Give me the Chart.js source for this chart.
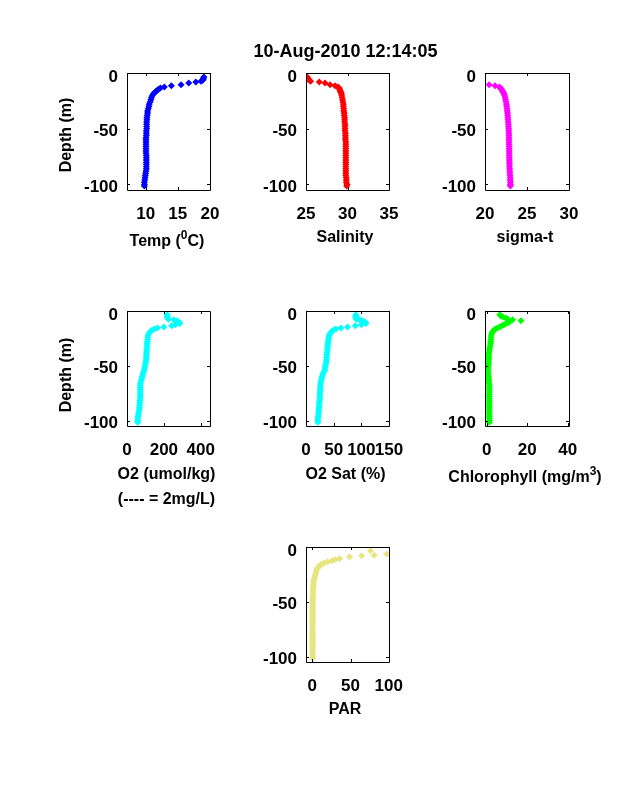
<!DOCTYPE html>
<html>
<head>
<meta charset="utf-8">
<script src="https://cdn.jsdelivr.net/npm/chart.js@4"></script>
<style>
  html, body { margin: 0; padding: 0; background: #fff; }
  body { position: relative; width: 638px; height: 788px; overflow: hidden; font-family: "Liberation Sans", sans-serif; }
  canvas { position: absolute; }
  .lbl { position: absolute; transform: translate(-50%, -50%); font: bold 16px "Liberation Sans", sans-serif; color: #000; white-space: nowrap; }
  .lbl sup { font-size: 12px; line-height: 0; vertical-align: 7px; }
  .rot { transform: translate(-50%, -50%) rotate(-90deg); }
  #title { font-size: 18px; }
</style>
</head>
<body>
<script>
// Profondeurs communes (m)
const depths = [-3.5, -4.5, -5.5, -6.5, -7.5, -8, -9, -10.5, -11.5, -12.5, -13.5, -14.5, -15.5, -16.5, -17.5, -18.5, -20,
  -22, -24, -26, -28, -30, -32, -34, -36, -38, -40, -42, -44, -46, -48, -50, -52, -54, -56, -58, -60,
  -62, -64, -66, -68, -70, -72, -74, -76, -78, -80, -82, -84, -86, -88, -90, -92, -94, -96, -98, -100, -101.5];

const tempValues = [19.05, 19, 18.95, 18.85, 18.6, 17.8, 16.7, 15.5, 14, 12.9, 12.3, 12, 11.8, 11.6, 11.4, 11.25, 11.05,
  10.9, 10.8, 10.7, 10.55, 10.5, 10.4, 10.3, 10.3, 10.25, 10.2, 10.2, 10.15, 10.15, 10.15, 10.15, 10.1, 10.1, 10.1, 10.05, 10.05,
  10.05, 10.05, 10.05, 10.05, 10.05, 10.05, 10.1, 10.1, 10.1, 10.1, 10.1, 10.1, 10.1, 10.05, 10, 9.95, 9.9, 9.85, 9.8, 9.8, 9.8];
const salinityValues = [25.15, 25.2, 25.3, 25.4, 25.55, 26.6, 27.3, 27.9, 28.5, 28.85, 29, 29.05, 29.1, 29.15, 29.2, 29.25, 29.3,
  29.35, 29.4, 29.45, 29.5, 29.5, 29.55, 29.55, 29.6, 29.6, 29.65, 29.65, 29.65, 29.7, 29.7, 29.7, 29.7, 29.75, 29.75, 29.75, 29.75,
  29.8, 29.8, 29.8, 29.8, 29.8, 29.8, 29.8, 29.8, 29.8, 29.8, 29.8, 29.8, 29.8, 29.8, 29.8, 29.8, 29.85, 29.85, 29.85, 29.95, 29.9];
const sigmaValues = [17.5, 17.5, 17.6, 17.6, 17.8, 18.6, 19.2, 20.5, 21.2, 21.7, 21.85, 21.95, 22.05, 22.12, 22.18, 22.25, 22.32,
  22.4, 22.45, 22.5, 22.55, 22.6, 22.62, 22.65, 22.68, 22.7, 22.72, 22.74, 22.76, 22.78, 22.8, 22.82, 22.82, 22.84, 22.84, 22.85, 22.85,
  22.86, 22.86, 22.87, 22.87, 22.88, 22.88, 22.88, 22.9, 22.9, 22.9, 22.92, 22.92, 22.93, 22.95, 22.97, 22.98, 23, 23, 23.02, 23.02, 23.02];
const o2Values = [218, 218, 218, 220, 225, 254, 272, 284, 286, 262, 242, 200, 165, 148, 135, 128, 120,
  115, 113, 112, 110, 108, 108, 108, 106, 106, 105, 104, 104, 102, 100, 98, 95, 93, 89, 85, 82,
  79, 76, 73, 72, 72, 72, 72, 72, 72, 71, 70, 69, 68, 67, 66, 64, 62, 60, 59, 58, 58];
const o2SatValues = [90, 90, 90, 90, 91, 97, 103, 108, 108, 100, 89, 75, 63, 54, 49, 47, 44,
  42, 41, 40.5, 40, 39.5, 39, 39, 38.5, 38, 37.5, 37, 37, 36.5, 36, 35, 34.5, 34, 32, 30, 29,
  28, 27, 26.5, 26, 26, 25.5, 25.5, 25, 25, 25, 24.5, 24, 24, 23.5, 23, 23, 22.5, 22, 21.5, 21.5, 21.5];
const chlValues = [6.5, 7, 8, 9.5, 10.5, 12.8, 16.9, 11, 9.6, 8.5, 7.5, 6.5, 5.2, 4.3, 3.6, 3.1, 2.6,
  2.3, 2.2, 2.1, 2, 1.9, 1.7, 1.5, 1.3, 1.2, 1.1, 1.1, 1, 1, 0.9, 0.8, 0.7, 0.6, 0.7, 0.8, 0.9,
  1, 1.1, 1.2, 1.3, 1.3, 1.3, 1.3, 1.3, 1.3, 1.3, 1.3, 1.3, 1.3, 1.3, 1.3, 1.3, 1.3, 1.3, 1.3, 1.4, 1.3];
const parValues = [76, 112, 106, 97.4, 81, 64.6, 48.7, 35.7, 30, 26, 20, 15.5, 12.5, 10.5, 8.8, 7.5, 6.2,
  5.2, 4.4, 3.6, 2.8, 2, 1.8, 1.5, 1.3, 1.1, 0.9, 0.8, 0.7, 0.6, 0.5, 0.5, 0.4, 0.4, 0.4, 0.3, 0.3,
  0.3, 0.3, 0.3, 0.3, 0.3, 0.3, 0.3, 0.3, 0.3, 0.3, 0.3, 0.3, 0.3, 0.3, 0.3, 0.3, 0.3, 0.3, 0.3, 0.3, 0.3];

// Graduations
const depthTicks = [-100, -50, 0];
const tempTicks = [10, 15, 20];
const salinityTicks = [25, 30, 35];
const sigmaTicks = [20, 25, 30];
const o2Ticks = [0, 200, 400];
const o2SatTicks = [0, 50, 100, 150];
const chlTicks = [0, 20, 40];
const parTicks = [0, 50, 100];

// Marges autour de la zone de tracé dans chaque canvas
const padL = 70, padT = 12, padR = 30, padB = 40;

// Cadre noir et graduations vers l'intérieur sur les 4 côtés
const framePlugin = {
    id: 'frame',
    afterDraw(chart) {
        const { ctx, chartArea: a, scales } = chart;
        ctx.save();
        ctx.strokeStyle = '#000';
        ctx.lineWidth = 1;
        ctx.beginPath();
        ctx.rect(Math.round(a.left) + 0.5, Math.round(a.top) + 0.5, Math.round(a.width), Math.round(a.height));
        scales.x.ticks.forEach(t => {
            const px = Math.round(scales.x.getPixelForValue(t.value)) + 0.5;
            ctx.moveTo(px, a.top); ctx.lineTo(px, a.top + 3);
            ctx.moveTo(px, a.bottom); ctx.lineTo(px, a.bottom - 3);
        });
        scales.y.ticks.forEach(t => {
            const py = Math.round(scales.y.getPixelForValue(t.value)) + 0.5;
            ctx.moveTo(a.left, py); ctx.lineTo(a.left + 3, py);
            ctx.moveTo(a.right, py); ctx.lineTo(a.right - 3, py);
        });
        ctx.stroke();
        ctx.restore();
    }
};

function makePanel(left, top, width, height, values, color, xMin, xMax, xTicks) {
    const canvas = document.createElement('canvas');
    canvas.width = width + padL + padR;
    canvas.height = height + padT + padB;
    canvas.style.left = (left - padL) + 'px';
    canvas.style.top = (top - padT) + 'px';
    canvas.style.width = canvas.width + 'px';
    canvas.style.height = canvas.height + 'px';
    document.body.appendChild(canvas);

    const tickFont = { family: '"Liberation Sans", sans-serif', size: 17, weight: 'bold' };
    return new Chart(canvas, {
        type: 'scatter',
        data: {
            datasets: [{
                data: values.map((v, i) => ({ x: v, y: depths[i] })),
                backgroundColor: color,
                borderColor: color,
                pointStyle: 'rectRot',
                pointRadius: 3.5,
                borderWidth: 0
            }]
        },
        options: {
            responsive: false,
            animation: false,
            devicePixelRatio: 1,
            layout: { autoPadding: false, padding: { top: padT, right: padR, left: 0, bottom: 0 } },
            plugins: { legend: { display: false }, tooltip: { enabled: false } },
            scales: {
                x: {
                    type: 'linear', min: xMin, max: xMax,
                    grid: { display: false, tickLength: 0 }, border: { display: false },
                    afterBuildTicks: s => { s.ticks = xTicks.map(v => ({ value: v })); },
                    afterFit: s => { s.height = padB; s.paddingLeft = 0; s.paddingRight = 0; },
                    ticks: { color: '#000', font: tickFont, padding: 14, maxRotation: 0, autoSkip: false, callback: v => String(v) }
                },
                y: {
                    type: 'linear', min: -105, max: 0,
                    grid: { display: false, tickLength: 0 }, border: { display: false },
                    afterBuildTicks: s => { s.ticks = depthTicks.map(v => ({ value: v })); },
                    afterFit: s => { s.width = padL; s.paddingTop = 0; s.paddingBottom = 0; },
                    ticks: {
                        color: '#000', padding: 9, autoSkip: false,
                        // ligne vide au-dessus pour descendre les libellés comme sur l'original
                        font: c => ({ ...tickFont, lineHeight: c.tick && c.tick.value === 0 ? 0.53 : 0.3 }),
                        callback: v => ['', String(v)]
                    }
                }
            }
        },
        plugins: [framePlugin]
    });
}

function addLabel(html, x, y, cls) {
    const d = document.createElement('div');
    d.className = 'lbl' + (cls ? ' ' + cls : '');
    d.innerHTML = html;
    d.style.left = x + 'px';
    d.style.top = y + 'px';
    document.body.appendChild(d);
    return d;
}

// Première ligne
makePanel(127, 73, 83, 117, tempValues, '#0000ff', 7.1, 20, tempTicks);
makePanel(306, 73, 83, 117, salinityValues, '#ff0000', 25, 35, salinityTicks);
makePanel(485, 73, 84, 117, sigmaValues, '#ff00ff', 20, 30, sigmaTicks);
// Deuxième ligne
makePanel(127, 311, 83, 115, o2Values, '#00ffff', 0, 450, o2Ticks);
makePanel(306, 311, 83, 115, o2SatValues, '#00ffff', 0, 150, o2SatTicks);
makePanel(485, 311, 84, 115, chlValues, '#00ff00', -0.8, 40.6, chlTicks);
// Troisième ligne
makePanel(306, 547, 83, 115, parValues, '#e6e680', -8.3, 100.4, parTicks);

// Textes
const title = addLabel('10-Aug-2010 12:14:05', 345.5, 51);
title.id = 'title';
addLabel('Depth (m)', 66, 135, 'rot');
addLabel('Depth (m)', 66, 375, 'rot');
addLabel('Temp (<sup>0</sup>C)', 167, 241);
addLabel('Salinity', 345, 237);
addLabel('sigma-t', 525, 237);
addLabel('O2 (umol/kg)', 166.5, 474);
addLabel('(---- = 2mg/L)', 166.5, 499);
addLabel('O2 Sat (%)', 345.5, 474);
addLabel('Chlorophyll (mg/m<sup>3</sup>)', 525, 477);
addLabel('PAR', 345, 709);
</script>
</body>
</html>
